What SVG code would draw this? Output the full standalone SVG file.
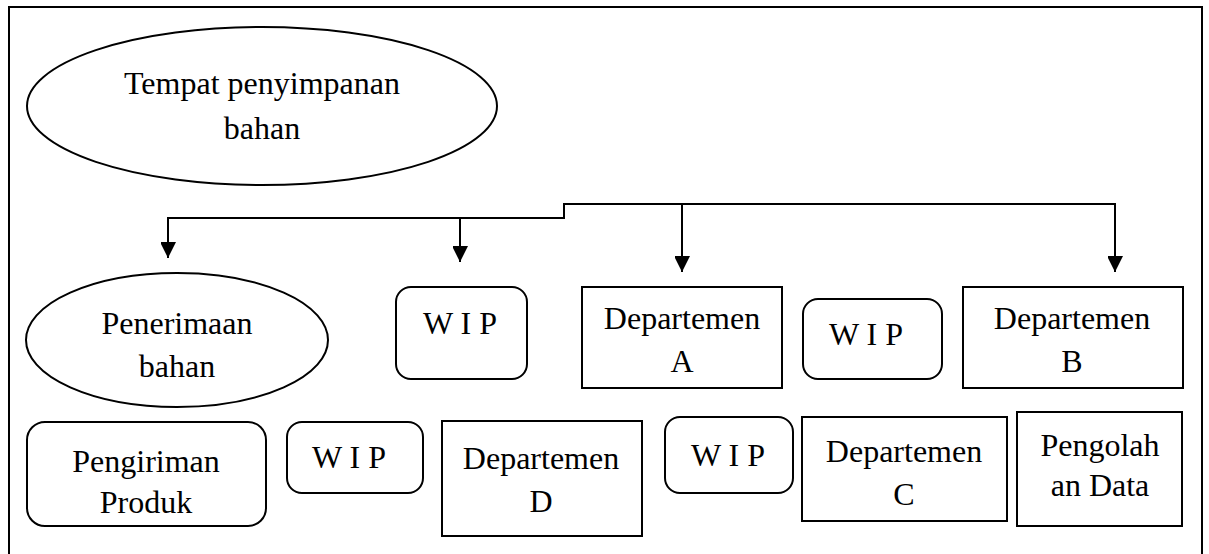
<svg xmlns="http://www.w3.org/2000/svg" width="1209" height="554" viewBox="0 0 1209 554">
  <style>
    .shape { fill: #fff; stroke: #000; stroke-width: 2; }
    .frame { fill: none; stroke: #000; stroke-width: 2; }
    .link { fill: none; stroke: #000; stroke-width: 2; }
    text { font-family: "Liberation Serif", "Times New Roman", serif; font-size: 32px; fill: #000; text-anchor: middle; }
  </style>
  <defs>
    <marker id="arrow" viewBox="0 0 16 15" refX="16" refY="8" markerUnits="userSpaceOnUse" markerWidth="16" markerHeight="15" orient="auto">
      <path d="M0,0 L16,8 L0,16 Z" fill="#000"/>
    </marker>
  </defs>

  <rect width="1209" height="554" fill="#fff"/>
  <rect class="frame" x="9" y="7" width="1193" height="560"/>

  <!-- connectors -->
  <g id="connectors">
    <path class="link" d="M168,218 H564 V204 H1115"/>
    <path class="link" d="M168,217 V258" marker-end="url(#arrow)"/>
    <path class="link" d="M460,218 V262" marker-end="url(#arrow)"/>
    <path class="link" d="M682,204 V272" marker-end="url(#arrow)"/>
    <path class="link" d="M1115,203 V272" marker-end="url(#arrow)"/>
  </g>

  <g id="tempat-penyimpanan">
    <ellipse class="shape" cx="262" cy="106" rx="235" ry="79"/>
    <text x="262" y="94">Tempat penyimpanan</text>
    <text x="262" y="139">bahan</text>
  </g>

  <g id="penerimaan-bahan">
    <ellipse class="shape" cx="177" cy="340" rx="151" ry="67"/>
    <text x="177" y="334">Penerimaan</text>
    <text x="177" y="377">bahan</text>
  </g>

  <g id="wip-1">
    <rect class="shape" x="396" y="287" width="131" height="92" rx="15"/>
    <text x="460" y="334">W I P</text>
  </g>

  <g id="departemen-a">
    <rect class="shape" x="582" y="287" width="200" height="101"/>
    <text x="682" y="329">Departemen</text>
    <text x="682" y="372">A</text>
  </g>

  <g id="wip-2">
    <rect class="shape" x="803" y="299" width="139" height="80" rx="15"/>
    <text x="866" y="345">W I P</text>
  </g>

  <g id="departemen-b">
    <rect class="shape" x="963" y="287" width="220" height="101"/>
    <text x="1072" y="329">Departemen</text>
    <text x="1072" y="372">B</text>
  </g>

  <g id="pengiriman-produk">
    <rect class="shape" x="27" y="422" width="239" height="104" rx="18"/>
    <text x="146" y="472">Pengiriman</text>
    <text x="146" y="513">Produk</text>
  </g>

  <g id="wip-3">
    <rect class="shape" x="287" y="422" width="136" height="71" rx="15"/>
    <text x="349" y="468">W I P</text>
  </g>

  <g id="departemen-d">
    <rect class="shape" x="442" y="421" width="200" height="115"/>
    <text x="541" y="469">Departemen</text>
    <text x="541" y="512">D</text>
  </g>

  <g id="wip-4">
    <rect class="shape" x="665" y="417" width="128" height="76" rx="15"/>
    <text x="728" y="466">W I P</text>
  </g>

  <g id="departemen-c">
    <rect class="shape" x="802" y="417" width="205" height="104"/>
    <text x="904" y="462">Departemen</text>
    <text x="904" y="505">C</text>
  </g>

  <g id="pengolahan-data">
    <rect class="shape" x="1017" y="412" width="165" height="114"/>
    <text x="1100" y="456">Pengolah</text>
    <text x="1100" y="496">an Data</text>
  </g>
</svg>
